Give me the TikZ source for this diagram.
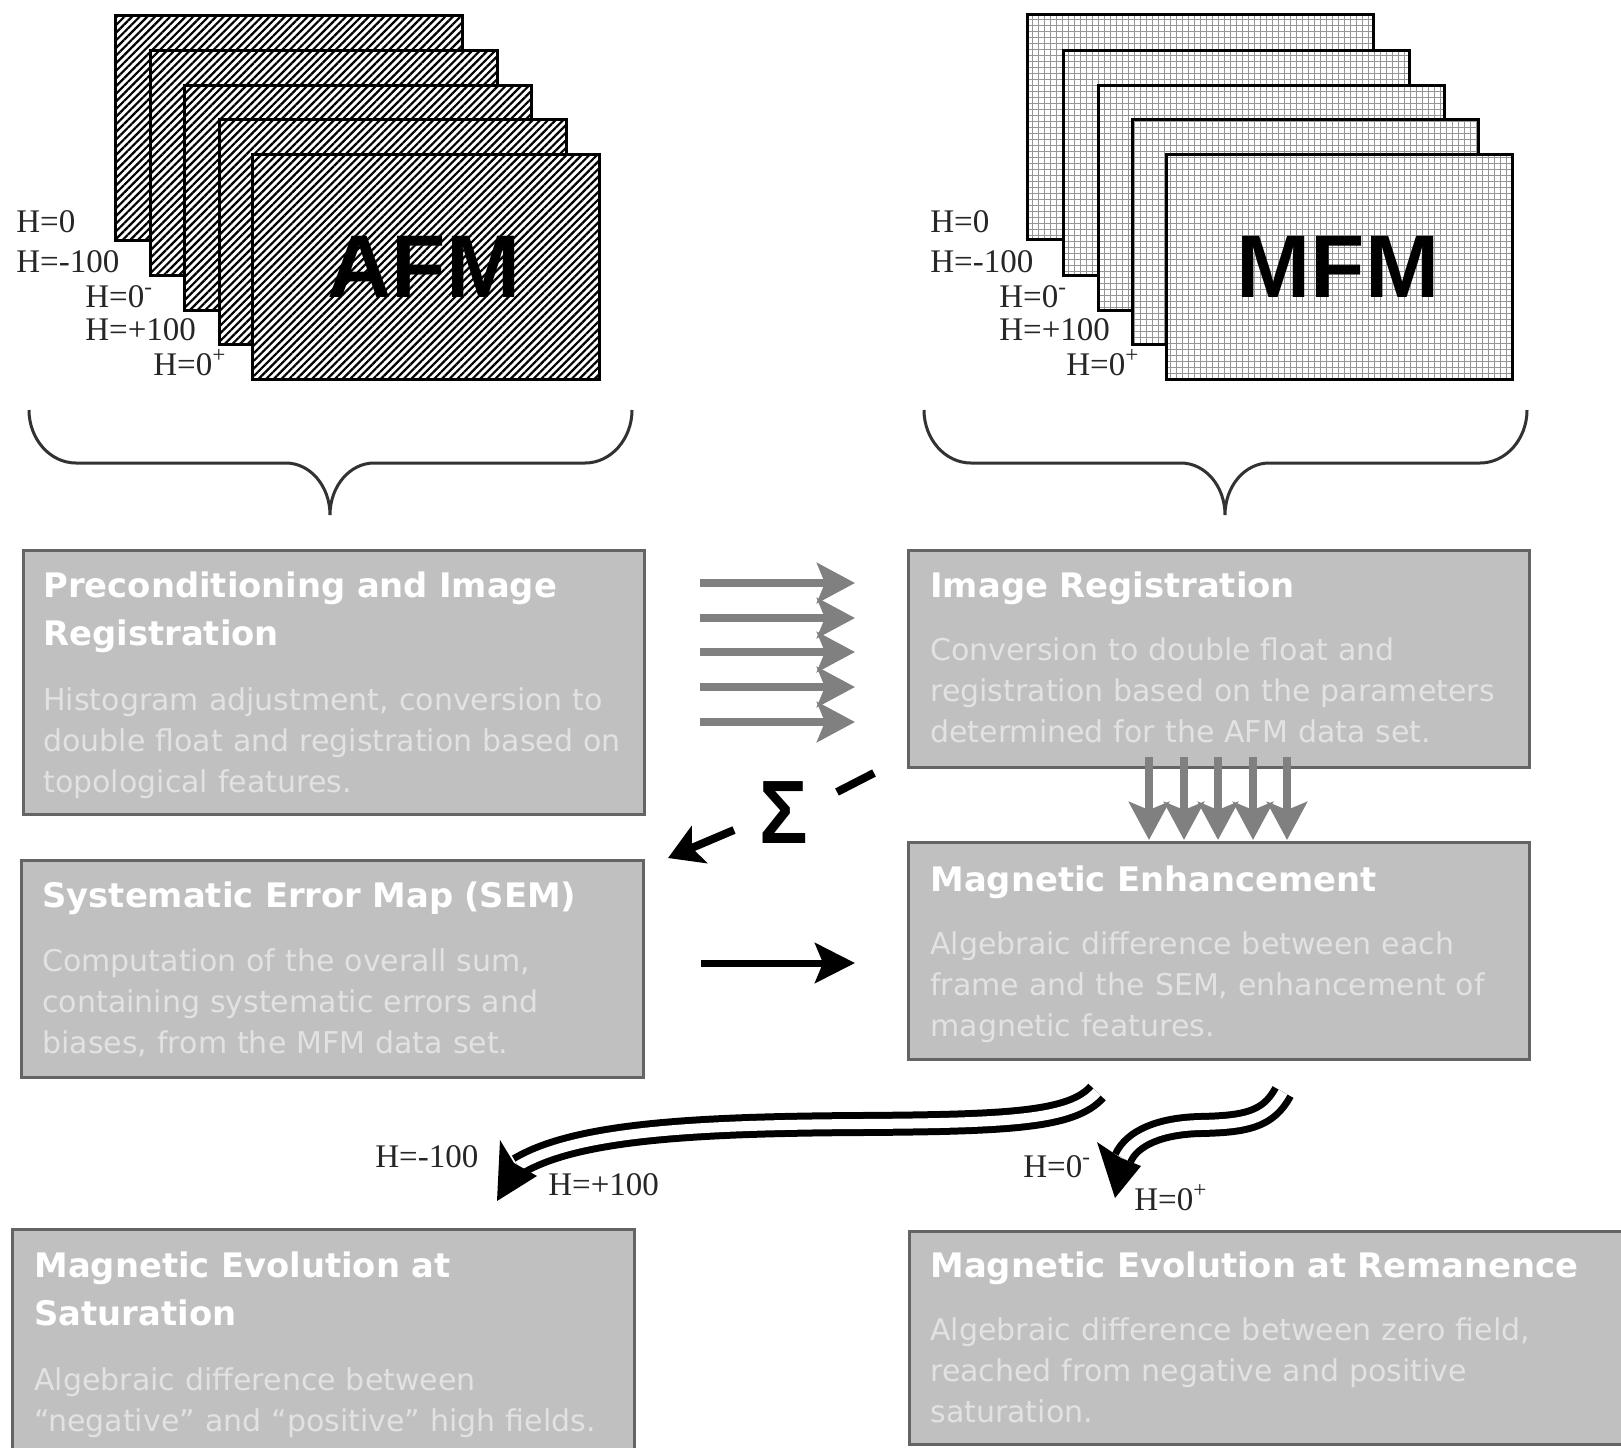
\documentclass[tikz,border=0pt]{standalone}
\usepackage{fontspec}
\newfontfamily\dvs{DejaVu Sans}
\newfontfamily\lserif{Liberation Serif}
\newfontfamily\lsans{Liberation Sans}
\usetikzlibrary{arrows.meta,patterns.meta}
\definecolor{boxfill}{RGB}{192,192,192}
\definecolor{boxline}{RGB}{100,100,100}
\definecolor{bodytxt}{RGB}{226,226,226}
\definecolor{arrgray}{RGB}{128,128,128}
\definecolor{gridc}{RGB}{150,150,150}
\definecolor{bracec}{RGB}{50,50,50}
\tikzset{
  afm/.style={draw=black, line width=1.5pt, preaction={fill=white},
    pattern={Lines[angle=45,distance=2.7pt,line width=1.1pt]}, pattern color=black,
    minimum width=173.5pt, minimum height=112.5pt, anchor=north west, inner sep=0pt},
  mfm/.style={draw=black, line width=1.5pt, preaction={fill=white},
    pattern={Hatch[angle=0,distance=3pt,line width=0.45pt]}, pattern color=gridc,
    minimum width=173pt, minimum height=112.5pt, anchor=north west, inner sep=0pt},
  big/.style={anchor=base, inner sep=0pt, font=\lsans\bfseries\fontsize{44.5}{48}\selectfont},
  lbl/.style={anchor=base west, inner sep=0pt, font=\lserif\fontsize{16.5}{18}\selectfont, text=black!85},
  box/.style={draw=boxline, line width=1.5pt, fill=boxfill, inner sep=0pt, anchor=north west},
  ttl/.style={anchor=base west, inner sep=0pt, text width=400pt, align=left, text=white,
    font=\dvs\bfseries\fontsize{16.9}{24}\selectfont},
  bdy/.style={anchor=base west, inner sep=0pt, text width=400pt, align=left, text=bodytxt,
    font=\dvs\fontsize{15}{20.5}\selectfont},
  grayarrow/.style={draw=arrgray, line width=4pt, -{Stealth[length=19pt,width=20pt,inset=4pt]}},
  blackarrow/.style={draw=black, line width=3.5pt, -{Stealth[length=20pt,width=20pt,inset=4pt]}},
  dblarrow/.style={draw=black, line width=3.5pt, double=white, double distance=5pt},
  bracestyle/.style={draw=bracec, line width=1.5pt}
}
\begin{document}
\begin{tikzpicture}[x=0.5pt,y=-0.5pt]
\useasboundingbox (0,0) rectangle (1621,1447);
\clip (0,0) rectangle (1621,1447);
\fill[white] (0,0) rectangle (1621,1447);

% AFM stack
\node[afm] (a1) at (114,14) {};
\node[afm] (a2) at (149,49) {};
\node[afm] (a3) at (183,84) {};
\node[afm] (a4) at (218,118) {};
\node[afm] (a5) at (251,153) {};
\node[big] (afmtxt) at (424,297) {AFM};
\node[lbl] (al1) at (16,232) {H=0};
\node[lbl] (al2) at (16,272) {H=-100};
\node[lbl] (al3) at (85,307) {H=0\textsuperscript{-}};
\node[lbl] (al4) at (85,340) {H=+100};
\node[lbl] (al5) at (153,375) {H=0\textsuperscript{+}};

% MFM stack
\node[mfm] (m1) at (1027,14) {};
\node[mfm] (m2) at (1062,49) {};
\node[mfm] (m3) at (1097,84) {};
\node[mfm] (m4) at (1131,118) {};
\node[mfm] (m5) at (1165,153) {};
\node[big] (mfmtxt) at (1338,297) {MFM};
\node[lbl] (ml1) at (930,232) {H=0};
\node[lbl] (ml2) at (930,272) {H=-100};
\node[lbl] (ml3) at (999,307) {H=0\textsuperscript{-}};
\node[lbl] (ml4) at (999,340) {H=+100};
\node[lbl] (ml5) at (1066,375) {H=0\textsuperscript{+}};

% braces
\draw[bracestyle] (29,410) .. controls (29,439) and (50,463) .. (76,463) -- (286,463)
  .. controls (310,463) and (330,486) .. (330,515)
  .. controls (330,486) and (350,463) .. (374,463) -- (585,463)
  .. controls (611,463) and (632,439) .. (632,410);
\begin{scope}[shift={(895,0)}]
\draw[bracestyle] (29,410) .. controls (29,439) and (50,463) .. (76,463) -- (286,463)
  .. controls (310,463) and (330,486) .. (330,515)
  .. controls (330,486) and (350,463) .. (374,463) -- (585,463)
  .. controls (611,463) and (632,439) .. (632,410);
\end{scope}

% boxes
\node[box, minimum width=310.5pt, minimum height=132pt] (pre) at (22,549) {};
\node[ttl] (pret) at (43,597) {Preconditioning and Image\\Registration};
\node[bdy] (preb) at (43,710) {Histogram adjustment, conversion to\\double float and registration based on\\topological features.};

\node[box, minimum width=310.5pt, minimum height=108.5pt] (ir) at (907,549) {};
\node[ttl] (irt) at (930,597) {Image Registration};
\node[bdy] (irb) at (930,660) {Conversion to double float and\\registration based on the parameters\\determined for the AFM data set.};

\node[box, minimum width=311pt, minimum height=108.5pt] (sem) at (20,859) {};
\node[ttl] (semt) at (42,907) {Systematic Error Map (SEM)};
\node[bdy] (semb) at (42,971) {Computation of the overall sum,\\containing systematic errors and\\biases, from the MFM data set.};

\node[box, minimum width=310.5pt, minimum height=108.5pt] (me) at (907,841) {};
\node[ttl] (met) at (930,891) {Magnetic Enhancement};
\node[bdy] (meb) at (930,954) {Algebraic difference between each\\frame and the SEM, enhancement of\\magnetic features.};

\node[box, minimum width=311pt, minimum height=125pt] (mes) at (11,1228) {};
\node[ttl] (mest) at (34,1277) {Magnetic Evolution at\\Saturation};
\node[bdy] (mesb) at (34,1390) {Algebraic difference between\\“negative” and “positive” high fields.};

\node[box, minimum width=361pt, minimum height=106.5pt] (mer) at (908,1230) {};
\node[ttl] (mert) at (930,1277) {Magnetic Evolution at Remanence};
\node[bdy] (merb) at (930,1340) {Algebraic difference between zero field,\\reached from negative and positive\\saturation.};

% gray horizontal arrows
\foreach \yy [count=\i] in {583,618,652,687,722} {
  \coordinate (hs\i) at (700,\yy);
  \coordinate (he\i) at (855,\yy);
  \draw[grayarrow] (hs\i) -- (he\i);
}
% gray down arrows
\foreach \xx [count=\i] in {1149,1184,1218,1253,1287} {
  \coordinate (vs\i) at (\xx,757);
  \coordinate (ve\i) at (\xx,840);
  \draw[grayarrow] (vs\i) -- (ve\i);
}

% sigma
\node[anchor=base, inner sep=0pt, font=\lsans\bfseries\fontsize{45}{47}\selectfont] (sig) at (784,843) {\scalebox{0.9}[1]{Σ}};
\draw[line width=4pt] (837,792) -- (874,773);
\coordinate (sa) at (734,830);
\coordinate (sb) at (668,858);
\draw[draw=black, line width=4pt, -{Stealth[length=17pt,width=20pt,inset=4pt]}] (sa) -- (sb);

% SEM -> ME arrow
\coordinate (ka) at (701,963);
\coordinate (kb) at (855,963);
\draw[blackarrow] (ka) -- (kb);

% curvy double arrows
\coordinate (c1s) at (1097,1092);
\coordinate (c1e) at (518,1166);
\draw[dblarrow] (c1s) .. controls (1072,1120) and (1010,1123) .. (860,1124)
   .. controls (690,1125) and (575,1132) .. (c1e);
\fill[black] (497,1201) -- (500,1140) -- (514,1163) -- (537,1176) -- cycle;

\coordinate (c2s) at (1283,1092);
\coordinate (c2e) at (1123,1158);
\draw[dblarrow] (c2s) .. controls (1268,1120) and (1245,1124) .. (1200,1125)
   .. controls (1160,1126) and (1132,1138) .. (c2e);
\fill[black] (1115,1198) -- (1097,1142) -- (1121,1158) -- (1141,1166) -- cycle;

\node[lbl] (l1) at (375,1167) {H=-100};
\node[lbl] (l2) at (548,1195) {H=+100};
\node[lbl] (l3) at (1023,1177) {H=0\textsuperscript{-}};
\node[lbl] (l4) at (1134,1210) {H=0\textsuperscript{+}};
\end{tikzpicture}
\end{document}
